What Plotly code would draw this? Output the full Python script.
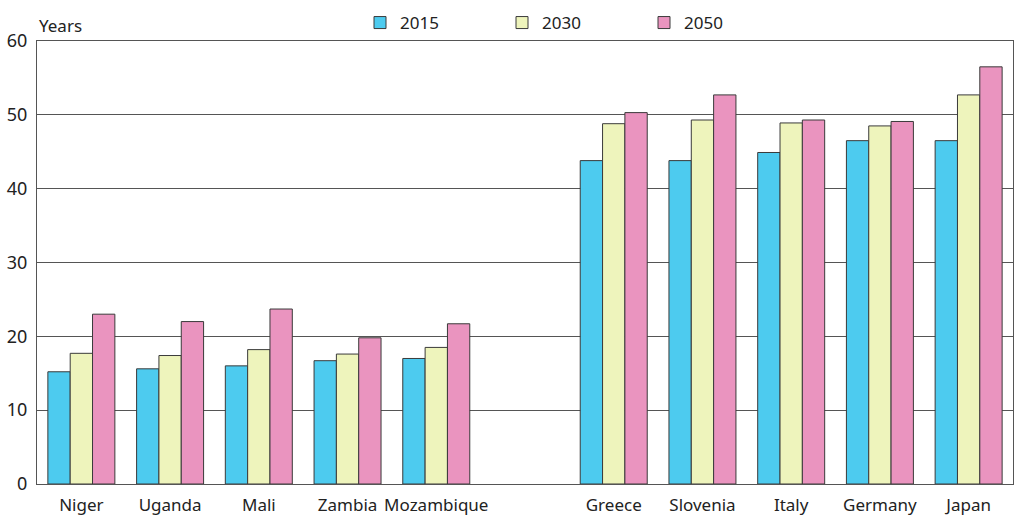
import plotly.graph_objects as go

categories = ["Niger", "Uganda", "Mali", "Zambia", "Mozambique", " ",
              "Greece", "Slovenia", "Italy", "Germany", "Japan"]
v2015 = [15.2, 15.6, 16.0, 16.7, 17.0, None, 43.8, 43.8, 44.9, 46.5, 46.5]
v2030 = [17.7, 17.4, 18.2, 17.6, 18.5, None, 48.8, 49.3, 48.9, 48.5, 52.7]
v2050 = [23.0, 22.0, 23.7, 19.8, 21.7, None, 50.3, 52.7, 49.3, 49.1, 56.5]
series_names = ["2015", "2030", "2050"]
colors = ["#4DCBEF", "#EEF4BC", "#EA94BF"]
y_ticks = [0, 10, 20, 30, 40, 50, 60]

FONT = "Noto Sans"
W, H = 1024, 522

fig = go.Figure()
for name, vals, col in zip(series_names, [v2015, v2030, v2050], colors):
    fig.add_trace(go.Bar(
        x=categories, y=vals, name=name,
        marker=dict(color=col, line=dict(color="#3a3a3a", width=1)),
    ))

fig.update_layout(
    width=W, height=H,
    margin=dict(l=37, r=11, t=39, b=38),
    paper_bgcolor="white", plot_bgcolor="white",
    barmode="group", bargap=0.245, bargroupgap=0,
    font=dict(family=FONT, size=17, color="#222"),
    showlegend=True,
    legend=dict(orientation="h", xref="container", yref="container",
                x=360 / W, xanchor="left", y=1 - 5 / H, yanchor="top",
                entrywidth=97, entrywidthmode="pixels",
                font=dict(size=17, family=FONT), traceorder="normal",
                bgcolor="rgba(0,0,0,0)"),
    xaxis=dict(type="category", categoryorder="array", categoryarray=categories,
               showline=True, linecolor="#555", linewidth=1, mirror=True,
               ticks="", tickfont=dict(size=17), showgrid=False, automargin=False,
               ticklabelstandoff=6),
    yaxis=dict(range=[0, 60], tickvals=y_ticks, showgrid=True, gridcolor="#555",
               gridwidth=1, showline=True, linecolor="#555", linewidth=1, mirror=True,
               ticks="", tickfont=dict(size=18), zeroline=False, automargin=False,
               ticklabelstandoff=5),
    annotations=[dict(text="Years", xref="paper", yref="paper", x=0, y=1.0,
                      xanchor="left", yanchor="bottom", showarrow=False,
                      font=dict(size=17, family=FONT), yshift=2)],
)

fig.write_html("out.html", config={"displayModeBar": False},
               post_script="document.body.style.margin='0';")
